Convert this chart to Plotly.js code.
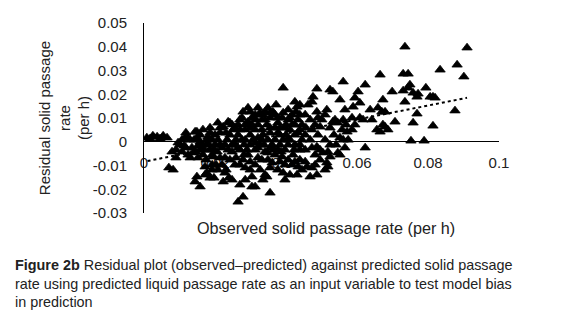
<!DOCTYPE html>
<html><head><meta charset="utf-8">
<script src="https://cdn.plot.ly/plotly-3.0.1.min.js"></script>
<style>html,body{margin:0;padding:0;background:#fff}#chart{width:580px;height:319px}</style>
</head><body><div id="chart"></div>
<script>
// Residuals (observed - predicted)
const residX = [
0.0008,0.0025,0.0037,0.0054,0.0065,0.0017,0.0045,0.0079,0.0090,0.0070,0.0082,
0.0107,0.0115,0.0130,0.0149,0.0177,0.0163,0.0138,0.0152,0.0172,0.0177,0.0144,0.0158,0.0186,0.0194,0.0214,0.0208,0.0223,0.0228,0.0223,
0.0149,0.0197,0.0231,0.0239,0.0248,0.0118,0.0124,0.0186,0.0200,0.0158,0.0175,0.0192,0.0206,0.0220,0.0234,0.0242,0.0251,0.0242,0.0256,0.0265,
0.0270,0.0237,0.0256,0.0270,0.0228,0.0242,0.0259,0.0270,0.0279,0.0285,0.0265,0.0279,0.0118,0.0144,0.0166,0.0186,0.0200,0.0180,0.0158,0.0101,
0.0293,0.0276,0.0293,0.0304,0.0313,0.0327,0.0332,0.0341,0.0355,0.0363,0.0377,0.0392,0.0392,0.0406,0.0417,0.0425,0.0431,0.0439,
0.0285,0.0299,0.0313,0.0321,0.0332,0.0346,0.0355,0.0369,0.0377,0.0383,0.0397,0.0411,0.0425,0.0434,
0.0299,0.0313,0.0327,0.0341,0.0355,0.0369,0.0383,0.0397,0.0411,0.0425,0.0439,0.0293,0.0321,0.0349,0.0361,0.0377,
0.0304,0.0304,0.0335,0.0346,0.0355,0.0392,0.0397,0.0411,0.0431,0.0434,0.0406,0.0389,0.0420,0.0285,0.0332,0.0369,0.0406,0.0313,
0.0462,0.0473,0.0476,0.0487,0.0524,0.0532,0.0561,0.0515,0.0487,0.0454,0.0468,0.0482,0.0496,0.0524,0.0532,0.0546,0.0558,0.0572,0.0586,
0.0538,0.0561,0.0586,0.0552,0.0561,0.0487,0.0504,0.0518,0.0482,0.0515,0.0546,0.0518,0.0473,0.0459,0.0468,0.0487,
0.0454,0.0468,0.0490,0.0510,0.0524,0.0454,0.0439,0.0594,0.0603,0.0608,0.0589,0.0552,0.0566,0.0594,0.0552,
0.0623,0.0665,0.0673,0.0659,0.0670,0.0679,0.0699,0.0608,0.0617,0.0656,0.0665,0.0679,0.0687,0.0707,0.0673,0.0623,
0.0735,0.0910,0.0834,0.0882,0.0901,0.0730,0.0744,0.0749,0.0744,0.0730,0.0758,0.0772,0.0769,0.0794,0.0806,0.0814,0.0820,
0.0735,0.0876,0.0769,0.0758,0.0814,0.0752,0.0789,0.0637,0.0642,
0.0096,0.0113,0.0135,0.0152,0.0169,0.0124,0.0141,0.0158,0.0175,0.0192,0.0208,0.0192,0.0214,0.0203,0.0172,0.0208,0.0220,
0.0237,0.0248,0.0259,0.0282,0.0270,0.0285,0.0265,0.0299,0.0304,0.0321,0.0341,0.0349,0.0361,0.0377,0.0392,0.0400,
0.0417,0.0434,0.0445,0.0445,0.0439,0.0425,0.0406,0.0372,0.0349,0.0321,0.0332,0.0313,0.0327,0.0299,0.0282,
0.0397,0.0417,0.0445,0.0456,0.0473,0.0473,0.0496,0.0501,0.0510,0.0490,0.0535,0.0541,0.0569,0.0575,0.0566,0.0524,0.0496,0.0439,0.0383,
0.0090,0.0107,0.0130,0.0146,0.0166,0.0183,0.0197,0.0214,0.0228,0.0248,0.0265,0.0276,0.0290,0.0307,0.0321,0.0338,0.0349,0.0366,0.0386,0.0403,0.0423,
0.0231,0.0248,0.0279,0.0299,0.0315,0.0335,0.0355,0.0369,0.0389,0.0400,0.0411,0.0428,0.0439,0.0335,0.0313,0.0355,0.0377,0.0214,0.0186,0.0149,
0.0192,0.0256,0.0299,0.0355,0.0383,0.0341,0.0285,0.0270,0.0425,0.0454,0.0482,0.0510
];
const residY = [
0.0017,0.0025,0.0021,0.0025,0.0017,0.0013,0.0013,-0.0042,-0.0067,-0.0109,-0.0118,
0.0008,0.0017,0.0008,0.0017,0.0008,-0.0013,-0.0046,-0.0067,-0.0105,-0.0131,-0.0168,-0.0189,-0.0152,-0.0063,0.0038,0.0080,0.0063,-0.0131,-0.0168,
-0.0147,-0.0152,-0.0118,-0.0152,-0.0160,-0.0025,-0.0055,-0.0034,-0.0013,-0.0034,-0.0076,-0.0097,-0.0042,-0.0025,0.0008,0.0029,0.0051,0.0080,0.0059,0.0029,
0.0093,0.0084,-0.0013,-0.0034,-0.0067,-0.0076,-0.0067,-0.0097,-0.0076,-0.0109,-0.0253,-0.0232,0.0038,0.0042,0.0051,0.0059,0.0029,0.0021,0.0000,-0.0013,
0.0143,0.0101,0.0084,0.0072,0.0114,0.0122,0.0093,0.0126,0.0122,0.0126,0.0101,0.0122,0.0227,0.0093,0.0114,0.0168,0.0147,0.0156,
0.0051,0.0029,0.0051,0.0017,0.0051,0.0072,0.0038,0.0059,0.0080,0.0029,0.0059,0.0051,0.0072,0.0038,
-0.0013,-0.0034,-0.0013,-0.0042,-0.0025,-0.0055,-0.0013,-0.0034,0.0008,-0.0013,-0.0034,-0.0055,-0.0067,-0.0076,-0.0088,-0.0118,
-0.0147,-0.0189,-0.0160,-0.0147,-0.0215,-0.0131,-0.0160,-0.0139,-0.0139,-0.0105,-0.0076,-0.0063,-0.0055,0.0008,0.0008,0.0008,-0.0013,-0.0189,
0.0156,0.0168,0.0189,0.0223,0.0219,0.0211,0.0253,0.0135,0.0126,0.0114,0.0093,0.0072,0.0063,0.0059,0.0084,0.0080,0.0051,0.0042,0.0051,
0.0093,0.0093,0.0101,0.0017,0.0008,-0.0021,-0.0046,-0.0042,-0.0055,-0.0088,-0.0046,-0.0105,-0.0109,-0.0105,-0.0147,-0.0139,
0.0029,0.0008,0.0029,0.0008,-0.0013,-0.0034,-0.0076,0.0185,0.0211,0.0164,0.0147,-0.0055,0.0135,0.0072,0.0177,
0.0240,0.0282,0.0177,0.0143,0.0126,0.0126,0.0211,0.0101,0.0093,0.0051,0.0042,0.0063,0.0051,0.0084,0.0072,-0.0025,
0.0400,0.0396,0.0303,0.0324,0.0274,0.0286,0.0286,0.0240,0.0227,0.0215,0.0206,0.0202,0.0189,0.0227,0.0189,0.0189,0.0185,
0.0168,0.0131,0.0118,0.0080,0.0067,0.0004,0.0004,0.0135,0.0093,
-0.0004,-0.0017,-0.0025,-0.0017,-0.0034,0.0017,0.0008,0.0029,-0.0013,0.0008,0.0008,-0.0055,-0.0067,-0.0097,-0.0139,-0.0118,-0.0097,
-0.0034,-0.0013,0.0008,-0.0013,0.0051,0.0072,0.0072,0.0059,0.0101,0.0072,0.0093,0.0008,-0.0013,-0.0034,0.0008,0.0029,
0.0072,0.0093,0.0072,0.0008,0.0114,0.0029,0.0135,0.0156,0.0143,0.0143,-0.0076,-0.0097,-0.0118,-0.0084,-0.0055,
-0.0097,-0.0097,-0.0118,0.0059,0.0051,-0.0025,-0.0034,0.0093,0.0114,0.0101,0.0029,-0.0013,0.0072,0.0008,-0.0025,-0.0063,-0.0076,-0.0013,0.0059,
-0.0034,-0.0042,-0.0067,-0.0042,-0.0055,-0.0013,-0.0034,-0.0013,-0.0013,-0.0042,-0.0025,0.0008,-0.0034,0.0008,-0.0025,-0.0013,-0.0046,-0.0034,-0.0042,0.0008,-0.0034,
0.0038,0.0072,0.0126,0.0126,0.0093,0.0114,0.0101,0.0114,0.0101,0.0072,0.0101,0.0126,0.0051,0.0029,-0.0004,0.0059,0.0038,0.0059,0.0038,0.0042,
-0.0118,-0.0097,-0.0118,-0.0109,-0.0084,-0.0139,-0.0160,-0.0181,-0.0084,-0.0084,-0.0097,-0.0118
];
// Dotted linear trend line end points
const trendX = [0.001, 0.091];
const trendY = [-0.0081, 0.0185];

const yTickVals = [-0.03,-0.02,-0.01,0,0.01,0.02,0.03,0.04,0.05];
const yTickText = ['-0.03','-0.02','-0.01','0','0.01','0.02','0.03','0.04','0.05'];
const xTickVals = [0,0.02,0.04,0.06,0.08,0.1];
const xTickText = ['0','0.02','0.04','0.06','0.08','0.1'];

const txt = '#222';
const data = [
  {x: residX, y: residY, type:'scatter', mode:'markers',
   marker:{symbol:'triangle-up', size:9, color:'#000', line:{color:'#000', width:0.8}}, hoverinfo:'skip'},
  {x: trendX, y: trendY, type:'scatter', mode:'lines',
   line:{color:'#000', width:2, dash:'dot'}, hoverinfo:'skip'}
];
const layout = {
  width:580, height:319,
  margin:{l:144, r:81, t:23, b:106},
  paper_bgcolor:'#fff', plot_bgcolor:'#fff',
  showlegend:false,
  font:{family:'Liberation Sans, Arial, sans-serif', size:15, color:txt},
  xaxis:{range:[0,0.1], tickvals:xTickVals, ticktext:xTickText, showgrid:false,
         zeroline:false, showline:false, ticks:'', anchor:'free', position:0.375,
         ticklabelstandoff:10, layer:'below traces',
         tickfont:{size:15, color:txt}},
  yaxis:{range:[-0.03,0.05], tickvals:yTickVals, ticktext:yTickText, showgrid:false,
         zeroline:true, zerolinecolor:'#000', zerolinewidth:1,
         showline:true, linecolor:'#000', linewidth:1, ticks:'',
         ticklabelstandoff:13, tickfont:{size:15, color:txt}},
  annotations:[
    {xref:'paper', yref:'paper', x:0.514, y:-0.079, text:'Observed solid passage rate (per h)',
     showarrow:false, font:{size:16.2, color:txt}, xanchor:'center', yanchor:'middle'},
    {xref:'paper', yref:'paper', x:-0.225, y:0.5, textangle:-90,
     text:'Residual solid passage<br>rate<br>(per h)', showarrow:false,
     font:{size:15, color:txt}, xanchor:'center', yanchor:'middle'},
    {xref:'paper', yref:'paper', x:-0.369, y:-0.222, xanchor:'left', yanchor:'top', align:'left',
     text:'<b>Figure 2b</b> Residual plot (observed–predicted) against predicted solid passage<br>rate using predicted liquid passage rate as an input variable to test model bias<br>in prediction',
     showarrow:false, font:{size:14.4, color:txt}}
  ]
};
Plotly.newPlot('chart', data, layout, {staticPlot:true, displayModeBar:false});
</script>
</body></html>
